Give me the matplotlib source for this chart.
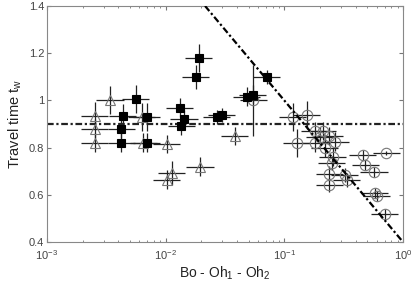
import numpy as np
import matplotlib
matplotlib.use("Agg")
import matplotlib.pyplot as plt

plt.rcParams['font.family'] = ['Liberation Sans', 'DejaVu Sans']
plt.rcParams['mathtext.fontset'] = 'custom'
plt.rcParams['mathtext.rm'] = 'Liberation Sans'
plt.rcParams['mathtext.it'] = 'Liberation Sans'

# open triangles
tri_x = [0.0034, 0.00253, 0.00253, 0.00253, 0.0063, 0.0065, 0.0102, 0.0113, 0.0102, 0.0195, 0.0384]
tri_y = [1.002, 0.934, 0.879, 0.82, 0.93, 0.82, 0.815, 0.693, 0.663, 0.718, 0.849]
tri_ye = [0.06, 0.06, 0.04, 0.04, 0.06, 0.04, 0.04, 0.05, 0.04, 0.04, 0.04]

# filled squares
sq_x = [0.00562, 0.00437, 0.00422, 0.00422, 0.00695, 0.00695, 0.0132, 0.0143, 0.0135,
        0.019, 0.018, 0.027, 0.0297, 0.0484, 0.0543, 0.0713]
sq_y = [1.006, 0.934, 0.879, 0.82, 0.93, 0.82, 0.968, 0.921, 0.892,
        1.18, 1.099, 0.93, 0.938, 1.015, 1.023, 1.099]
sq_ye = [0.06, 0.05, 0.04, 0.04, 0.06, 0.04, 0.04, 0.04, 0.04,
         0.06, 0.05, 0.03, 0.03, 0.04, 0.04, 0.03]

# open circles
ci_x = [0.055, 0.118, 0.155, 0.127, 0.181, 0.21, 0.18, 0.2, 0.24, 0.27, 0.22, 0.255, 0.25,
        0.24, 0.24, 0.324, 0.335, 0.46, 0.48, 0.57, 0.72, 0.58, 0.6, 0.70]
ci_y = [1.0, 0.929, 0.938, 0.82, 0.87, 0.87, 0.82, 0.845, 0.849, 0.824, 0.80, 0.76, 0.735,
        0.69, 0.64, 0.683, 0.663, 0.769, 0.726, 0.697, 0.777, 0.608, 0.595, 0.519]
ci_ye = [0.15, 0.06, 0.06, 0.06, 0.04, 0.04, 0.04, 0.04, 0.04, 0.04, 0.04, 0.04, 0.03,
         0.03, 0.03, 0.03, 0.03, 0.02, 0.02, 0.02, 0.01, 0.02, 0.02, 0.02]

xfac = 1.3  # horizontal error, multiplicative

# model lines
x_fit = [0.0215, 1.0]
y_fit = [1.4, 0.4]
y_const = 0.9

fig = plt.figure(figsize=(4.15, 2.83), dpi=100)
ax = fig.add_axes([0.113, 0.145, 0.858, 0.834])


def draw(x, y, ye, marker, face, edge, ms):
    x = np.array(x)
    xe = [x - x / xfac, x * xfac - x]
    ax.errorbar(x, y, yerr=ye, xerr=xe, fmt='none', ecolor='#222222',
                elinewidth=0.9, capsize=0, zorder=2)
    ax.plot(x, y, linestyle='none', marker=marker, markersize=ms,
            markerfacecolor=face, markeredgecolor=edge, markeredgewidth=0.8, zorder=3)


draw(ci_x, ci_y, ci_ye, 'o', 'none', '#777777', 7.5)
draw(tri_x, tri_y, tri_ye, '^', 'none', '#777777', 7.5)
draw(sq_x, sq_y, sq_ye, 's', 'black', 'black', 6)

dd = (3, 1.2, 1, 1.2)
ax.axhline(y_const, color='#222222', linestyle=(0, dd), linewidth=1.6, zorder=1)
ax.plot(x_fit, y_fit, color='black', linestyle=(0, dd), linewidth=1.6, zorder=4)

ax.set_xscale('log')
ax.set_xlim(1e-3, 1)
ax.set_ylim(0.4, 1.4)
ax.set_yticks([0.4, 0.6, 0.8, 1.0, 1.2, 1.4])
ax.set_yticklabels(['0.4', '0.6', '0.8', '1', '1.2', '1.4'])
ax.tick_params(which='both', direction='in', top=True, right=True,
               labelsize=8, labelcolor='#444444', color='#777777', pad=2)
ax.tick_params(axis='x', which='major', pad=4.5)
ax.tick_params(which='major', length=3)
ax.tick_params(which='minor', length=1.5)
for s in ax.spines.values():
    s.set_color('#888888')
    s.set_linewidth(0.8)

ax.set_xlabel('Bo - Oh$_1$ - Oh$_2$', fontsize=10, color='#222222', labelpad=2)
ax.set_ylabel('Travel time t$_w$', fontsize=10.5, color='#222222', labelpad=3)

fig.savefig('out.png', dpi=100)
